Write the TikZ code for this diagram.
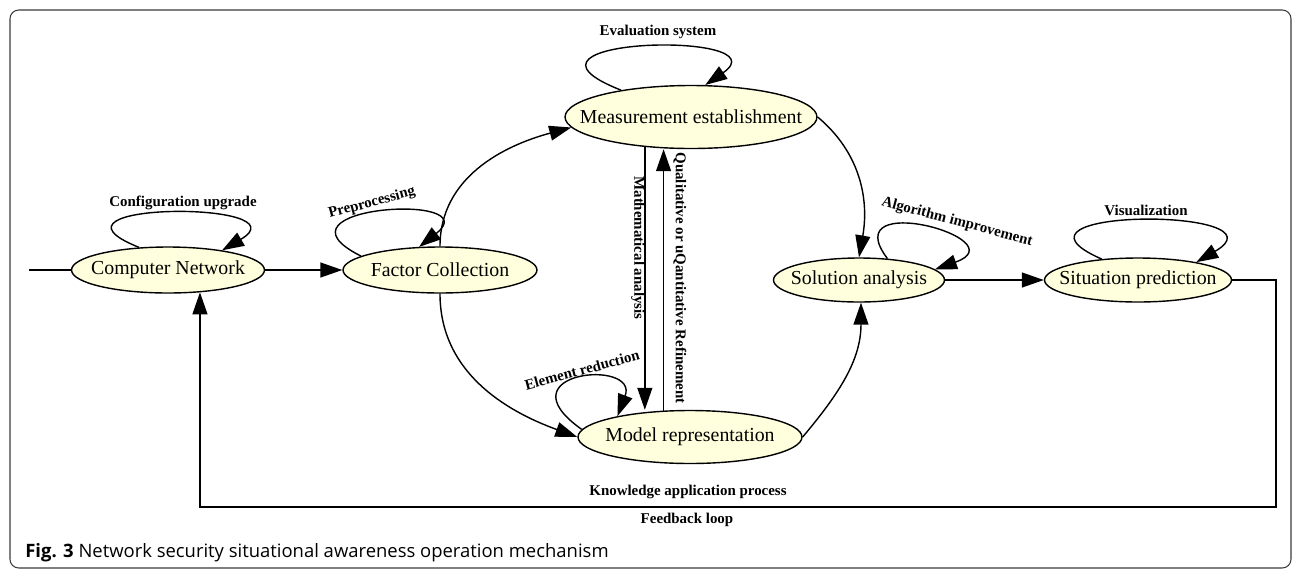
\documentclass[tikz,border=0pt]{standalone}
\usepackage{fontspec}
\setmainfont{Liberation Serif}
\newfontfamily\capfont{Open Sans}
\usetikzlibrary{shapes.geometric,arrows.meta}
\definecolor{nodefill}{HTML}{FFFFDD}
\definecolor{framegray}{HTML}{3A3A3A}
\newcommand{\nodetext}[1]{\makebox[0pt]{#1}}

\begin{document}
\begin{tikzpicture}[x=0.02cm,y=-0.02cm]

\tikzstyle{state}=[draw, line width=0.8pt, ellipse, fill=nodefill, inner sep=0pt, font=\fontsize{11.3}{13}\selectfont];
\tikzstyle{lbl}=[inner sep=0pt, font=\fontsize{8.5}{10}\selectfont\bfseries];
\tikzstyle{arr}=[line width=0.8pt, -{Triangle[length=12.5pt,width=8.5pt]}];
\tikzstyle{ln}=[line width=0.8pt];

\useasboundingbox (0,0) rectangle (1292,569);
\draw[framegray, line width=0.6pt, rounded corners=5pt] (10,10) rectangle (1291,568);

\node[state, minimum width=3.86cm, minimum height=0.92cm] (cn) at (168,270) {\nodetext{Computer Network}};
\node[state, minimum width=3.88cm, minimum height=0.92cm] (fc) at (440,270) {\nodetext{Factor Collection}};
\node[state, minimum width=5.04cm, minimum height=1.26cm] (me) at (691,117) {\nodetext{Measurement establishment}};
\node[state, minimum width=4.48cm, minimum height=1.06cm] (mr) at (690,437) {\nodetext{Model representation}};
\node[state, minimum width=3.42cm, minimum height=0.88cm] (sa) at (859,280) {\nodetext{Solution analysis}};
\node[state, minimum width=3.74cm, minimum height=0.88cm] (sp) at (1138,280) {\nodetext{Situation prediction}};

\coordinate (in) at (29,270);
\coordinate (fbr) at (1276,507);

\draw[ln] (in) -- (cn);
\draw[arr] (cn) -- (fc);
\draw[arr] (fc.north) to[out=90,in=195] (me.185);
\draw[arr] (fc.south) to[out=-90,in=160] (mr.west);
\draw[arr] (me.east) to[out=-40,in=80] (sa.north);
\draw[arr] (mr.east) to[out=50,in=-90] (sa.-85);
\draw[arr] (sa) -- (sp);
\draw[arr] (me.213) -- (me.213 |- mr.north);
\draw[arr] (mr.135) -- (mr.135 |- me.south);
\draw[arr] (sp.east) -| (fbr) -| (cn.-35);

\draw[arr] (cn.142) .. controls +(-115,-46) and +(85,-50) .. (cn.20);
\draw[arr] (fc.170) .. controls +(-100,-50) and +(70,-55) .. (fc.132);
\draw[arr] (me.159) .. controls +(-135,-53) and +(80,-55) .. (me.66);
\draw[arr] (mr.176) .. controls +(-82,-58) and +(22,-58) .. (mr.164);
\draw[arr] (sa.37) .. controls +(-53,-70) and +(85,-30) .. (sa.8);
\draw[arr] (sp.150) .. controls +(-119,-52) and +(95,-55) .. (sp.17);

\node[lbl] (cfg) at (183,203) {Configuration upgrade};
\node[lbl, rotate=15] (pre) at (372,203) {Preprocessing};
\node[lbl] (eval) at (658,32) {Evaluation system};
\node[lbl, rotate=15] (elem) at (582,370) {Element reduction};
\node[lbl, rotate=-15] (algo) at (957,222) {Algorithm improvement};
\node[lbl] (vis) at (1146,210) {Visualization};
\node[lbl, rotate=-90] (math) at (638,248) {Mathematical analysis};
\node[lbl, rotate=-90] (qual) at (680,278) {Qualitative or uQantitative Refinement};
\node[lbl] (know) at (688,492) {Knowledge application process};
\node[lbl] (fb) at (687,520) {Feedback loop};
\node[anchor=west, inner sep=0pt, font=\capfont\fontsize{10.5}{13}\selectfont] (cap) at (25,553) {\textbf{Fig. 3} Network security situational awareness operation mechanism};
\end{tikzpicture}
\end{document}
